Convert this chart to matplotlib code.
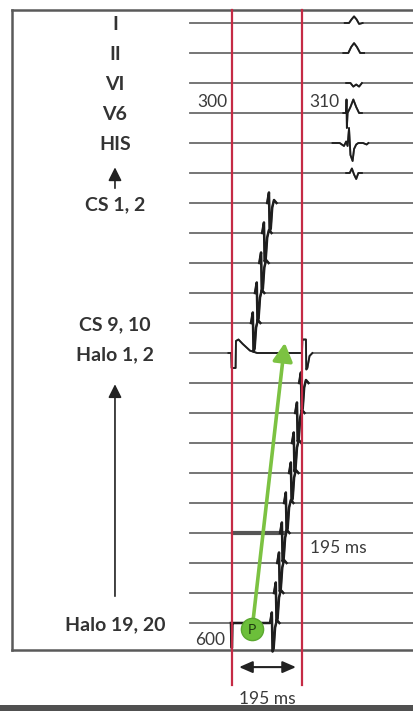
import matplotlib.pyplot as plt
import numpy as np

# channel labels, top to bottom (blank = unlabelled row)
labels = ["I", "II", "VI", "V6", "HIS", "", "CS 1, 2", "", "", "", "CS 9, 10",
          "Halo 1, 2", "", "", "", "", "", "", "", "", "Halo 19, 20"]

# local activation time (ms after first red line) for CS and Halo rows
cs_rows = [6, 7, 8, 9, 10]
cs_times = [106, 92, 84, 72, 61]
halo_rows = [12, 13, 14, 15, 16, 17, 18, 19, 20]
halo_times = [195, 184, 175, 167, 153, 142, 134, 125, 114]

# surface ECG / HIS deflections (ms, rows below baseline)
ecg_shapes = {
    0: ([314, 326, 333, 340, 347, 354, 364], [0, 0, -0.12, -0.22, -0.12, 0.03, 0]),
    1: ([310, 324, 332, 340, 348, 357, 368], [0, 0, -0.2, -0.33, -0.2, 0, 0]),
    2: ([318, 330, 338, 346, 354, 362], [0, 0, 0.12, 0.05, 0.12, 0]),
    3: ([310, 318, 319, 320, 322, 330, 338, 346, 354, 362],
        [0, 0, -0.45, 0.5, 0, -0.2, -0.45, -0.2, 0, 0]),
    4: ([280, 300, 312, 318, 322, 326, 330, 336, 340, 346, 352, 365, 375, 380],
        [0, 0, 0.1, -0.05, 0.1, -0.5, 0.4, 0.6, 0.2, 0.05, 0, 0, 0.05, 0]),
    5: ([318, 328, 334, 340, 346, 352, 362], [0, 0, -0.15, 0.05, 0.2, 0, 0]),
}

# pacing artefact and late activation on Halo 1, 2
halo12_t = [-10, -2, -1, 0, 10, 11, 18, 30, 50, 70, 80, 195, 196, 197, 206, 207, 210, 216, 224]
halo12_y = [0, 0, 0.5, 0.5, 0.5, -0.4, -0.45, -0.3, -0.08, 0, 0, 0, -0.45, -0.45, -0.45, 0.55, 0.5, 0.1, 0]

# spike template (ms offset, rows)
spike_dt = [-8, -3, -1, 2, 6, 11, 18]
spike_dy = [0, -0.35, 0.95, 0.85, 0.15, -0.1, 0]

px_ms = 70 / 195.0
t_left, t_right = -232 / px_ms, 181 / px_ms
r_top, r_bot = -23 / 30.0, 688 / 30.0
t_start = -117

fig = plt.figure(figsize=(4.13, 7.11), dpi=100)
ax = fig.add_axes([0, 0, 1, 1])
ax.set_xlim(t_left, t_right)
ax.set_ylim(r_bot, r_top)
ax.axis("off")

base_col = "#6a6a6a"
ink = "#1e1e1e"


def trace(row, ts, ys, lw=1.6):
    t = np.concatenate([[t_start], ts, [t_right]])
    y = np.concatenate([[0], ys, [0]]) + row
    ax.plot(t, y, color=base_col, lw=1.3, zorder=2)
    ax.plot(ts, np.array(ys) + row, color=ink, lw=lw, zorder=3)


for row in range(len(labels)):
    if row in ecg_shapes:
        ts, ys = ecg_shapes[row]
        trace(row, ts, ys, lw=1.3)
    elif row in cs_rows:
        t0 = cs_times[cs_rows.index(row)]
        trace(row, np.array(spike_dt) + t0, spike_dy, lw=1.8)
    elif row in halo_rows:
        t0 = halo_times[halo_rows.index(row)]
        ts = list(np.array(spike_dt) + t0)
        ys = list(spike_dy)
        if row == 20:
            ts = [-3, -1, 0, 1, 2] + ts
            ys = [0, 0.83, 0.83, 0.0, 0] + ys
        trace(row, ts, ys, lw=1.8)
    elif row == 11:
        trace(row, halo12_t, halo12_y, lw=1.3)

# thick smudge on one Halo row
ax.plot([3, 142], [17, 17], color="#555555", lw=3, zorder=2)

# frame
ax.plot([-614, t_right], [-0.43, -0.43], color="#5a5a5a", lw=1.8)
ax.plot([-614, t_right], [20.9, 20.9], color="#5a5a5a", lw=1.8)
ax.plot([-614, -614], [-0.43, 20.9], color="#5a5a5a", lw=1.8)
ax.axhspan(22.72, r_bot, color="#505050", lw=0)

# red markers
for t in (0, 195):
    ax.plot([t, t], [-0.43, 22.07], color="#c52b45", lw=1.6, zorder=4)

# labels
for row, lab in enumerate(labels):
    if lab:
        ax.text(-326, row + 0.05, lab, ha="center", va="center", fontsize=14,
                family="Lato", weight="bold", color="#333333")

arrow_kw = dict(arrowstyle="-|>,head_width=0.4,head_length=0.8", color="#222222", lw=1.2)
ax.annotate("", xy=(-326, 4.72), xytext=(-326, 5.6), arrowprops=arrow_kw)
ax.annotate("", xy=(-326, 11.95), xytext=(-326, 19.2), arrowprops=arrow_kw)

num_kw = dict(fontsize=12.5, family="Lato", color="#3a3a3a")
ax.text(-56, 2.62, "300", ha="center", va="center", **num_kw)
ax.text(258, 2.62, "310", ha="center", va="center", **num_kw)
ax.text(-61, 20.55, "600", ha="center", va="center", **num_kw)
ax.text(216, 17.5, "195 ms", ha="left", va="center", **num_kw)
ax.text(97, 22.52, "195 ms", ha="center", va="center", **num_kw)

ax.annotate("", xy=(186, 21.47), xytext=(12, 21.47),
            arrowprops=dict(arrowstyle="<|-|>,head_width=0.35,head_length=0.8",
                            color="#222222", lw=1.5))

# conduction vector
ax.annotate("", xy=(148, 10.57), xytext=(56, 20.2),
            arrowprops=dict(arrowstyle="-|>,head_width=0.6,head_length=1.1",
                            color="#7cc242", lw=2.6), zorder=5)
ax.plot([56], [20.2], "o", ms=16, color="#6cbf3a", mec="#5aa830", zorder=6)
ax.text(56, 20.22, "P", ha="center", va="center", fontsize=10, family="Lato",
        color="#1e3a10", zorder=7)

fig.savefig("out.png", dpi=100)
